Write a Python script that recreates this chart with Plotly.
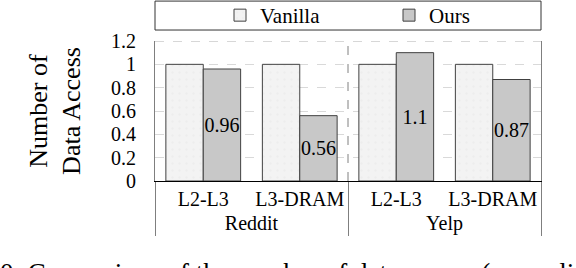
import plotly.graph_objects as go

datasets = ["Reddit", "Reddit", "Yelp", "Yelp"]
levels = ["L2-L3", "L3-DRAM", "L2-L3", "L3-DRAM"]
vanilla = [1, 1, 1, 1]
ours = [0.96, 0.56, 1.1, 0.87]
ytick_vals = [0, 0.2, 0.4, 0.6, 0.8, 1, 1.2]
ytick_text = ["0", "0.2", "0.4", "0.6", "0.8", "1", "1.2"]

FONT = "Liberation Serif"
W, H = 576, 268
PL, PR, PT, PB = 155, 541, 41, 181.3
L, R, T, B = PL, W - PR, PT, H - PB
ph = H - T - B
pw = W - L - R

def py(p):
    return (PB - p) / ph

def px(p):
    return (p - PL) / pw

fig = go.Figure()
fig.add_trace(go.Bar(
    name="Vanilla", x=[datasets, levels], y=vanilla,
    marker=dict(color="#f3f3f3", line=dict(color="#404040", width=1),
                pattern=dict(shape=".", fgcolor="#e8e8e8", bgcolor="#f3f3f3", size=7, solidity=0.1)),
))
fig.add_trace(go.Bar(
    name="Ours", x=[datasets, levels], y=ours,
    marker=dict(color="#c8c8c8", line=dict(color="#404040", width=1)),
    text=[str(v) for v in ours], textposition="inside", insidetextanchor="middle",
    textangle=0, textfont=dict(family=FONT, size=20, color="black"),
))

fig.update_layout(
    width=W, height=H, margin=dict(l=L, r=R, t=T, b=B, autoexpand=False),
    paper_bgcolor="white", plot_bgcolor="white",
    barmode="group", bargap=0.225, bargroupgap=0,
    font=dict(family=FONT, color="black"),
    uniformtext=dict(minsize=20, mode="show"),
    showlegend=True,
    legend=dict(orientation="h", xref="container", yref="container",
                x=220 / W, xanchor="left", y=1 - 15.5 / H, yanchor="middle",
                font=dict(family=FONT, size=21), bgcolor="rgba(0,0,0,0)",
                entrywidth=124, entrywidthmode="pixels", itemclick=False),
    xaxis=dict(type="multicategory", showline=True, linecolor="black", linewidth=1,
               ticks="", showgrid=False, tickfont=dict(family=FONT, size=20), tickangle=0,
               showdividers=True, dividercolor="#7f7f7f", dividerwidth=1),
    yaxis=dict(range=[0, 1.2], tickvals=ytick_vals, ticktext=ytick_text,
               tickfont=dict(family=FONT, size=20), ticklabelstandoff=14,
               showgrid=True, gridcolor="#d9d9d9", griddash="dash", gridwidth=1,
               showline=True, linecolor="#7f7f7f", linewidth=1, mirror=True,
               zeroline=False, ticks="",
               title=dict(text="Number of<br>Data Access", font=dict(family=FONT, size=26), standoff=22)),
)

# dashed separator between dataset groups inside the plot
fig.add_shape(type="line", xref="x", yref="paper", x0=1.5, x1=1.5, y0=0, y1=1,
              line=dict(color="#808080", width=1, dash="dash"))
# top dashed line at 1.2
fig.add_shape(type="line", xref="paper", yref="y", x0=0, x1=1, y0=1.2, y1=1.2,
              line=dict(color="#b0b0b0", width=1, dash="dash"))
# legend box
fig.add_shape(type="rect", xref="paper", yref="paper", x0=0, x1=1, y0=py(30), y1=py(1),
              line=dict(color="#333333", width=1), fillcolor="rgba(0,0,0,0)")

# caption (cut off at bottom)
fig.add_annotation(text="0: Comparison of the number of data access (normalized to Vanilla)",
                   xref="paper", yref="paper", x=px(-2), y=py(256), xanchor="left", yanchor="top",
                   showarrow=False, font=dict(family=FONT, size=27, color="black"))

fig.write_html("out.html", config={"displayModeBar": False},
               post_script="document.body.style.margin='0';document.body.style.overflow='hidden';")
